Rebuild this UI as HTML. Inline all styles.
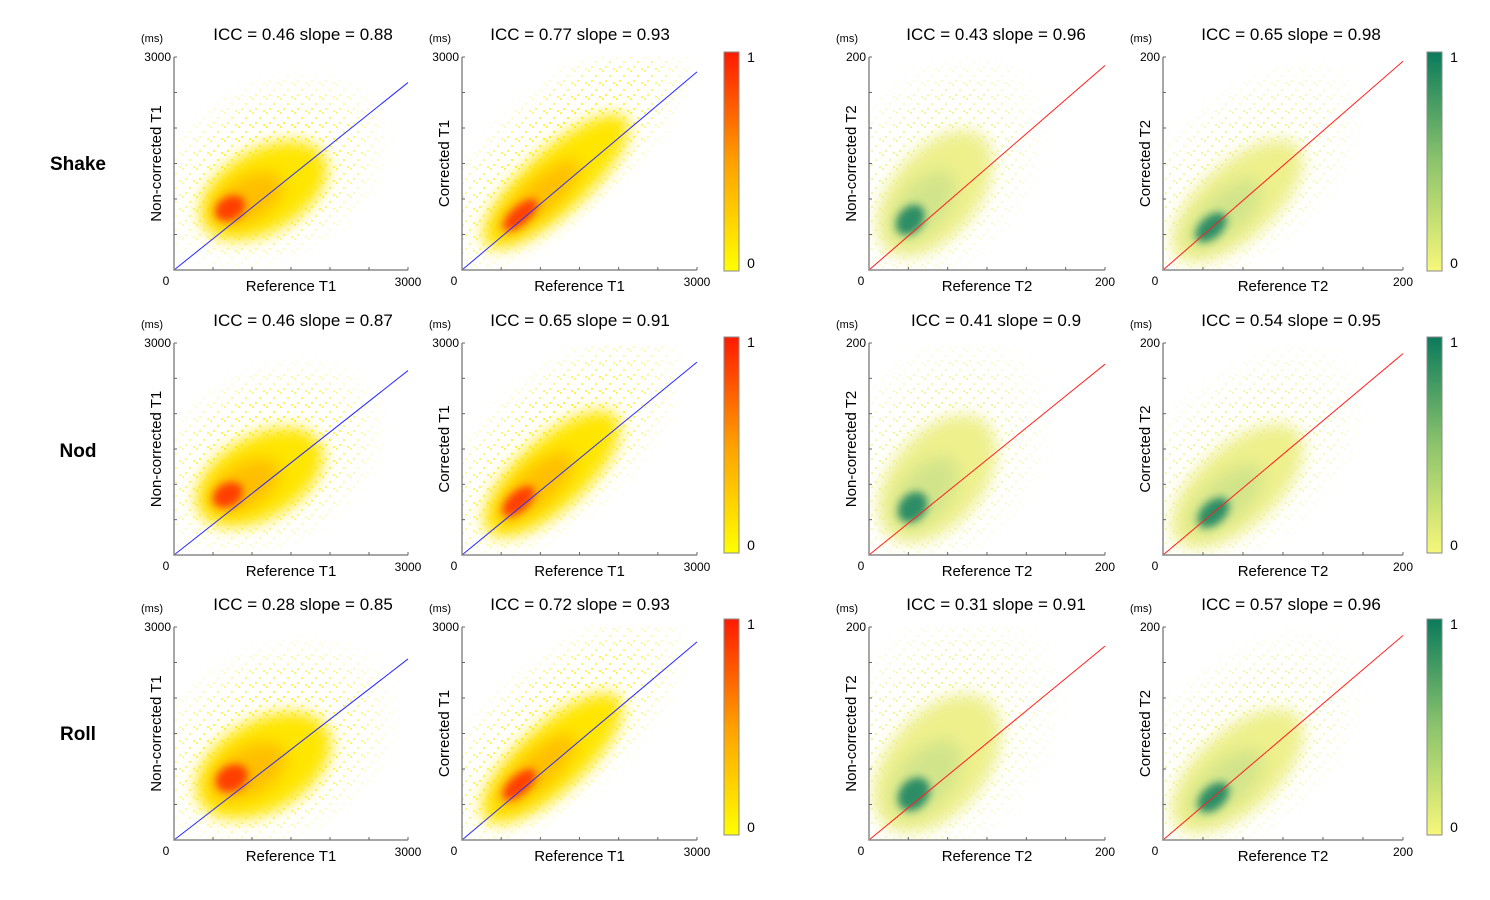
<!DOCTYPE html>
<html><head><meta charset="utf-8"><style>
html,body{margin:0;padding:0;background:#fff;width:1490px;height:900px;overflow:hidden}
svg text{font-family:"Liberation Sans",sans-serif}
</style></head><body>
<svg id="fig" width="1490" height="900" xmlns="http://www.w3.org/2000/svg">
<defs>
<filter id="b4" x="-50%" y="-50%" width="200%" height="200%"><feGaussianBlur stdDeviation="4"/></filter>
<filter id="b8" x="-50%" y="-50%" width="200%" height="200%"><feGaussianBlur stdDeviation="8"/></filter>
<filter id="b12" x="-50%" y="-50%" width="200%" height="200%"><feGaussianBlur stdDeviation="12"/></filter>
<pattern id="dotsY" width="14" height="14" patternUnits="userSpaceOnUse"><rect x="0" y="0" width="2" height="2" fill="#ffee00"/><rect x="7" y="5" width="2" height="2" fill="#ffee00"/><rect x="3" y="10" width="2" height="2" fill="#ffee00"/><rect x="11" y="12" width="2" height="2" fill="#ffee00"/></pattern>
<pattern id="dotsG" width="14" height="14" patternUnits="userSpaceOnUse"><rect x="0" y="0" width="2" height="2" fill="#f0f070"/><rect x="7" y="5" width="2" height="2" fill="#f0f070"/><rect x="3" y="10" width="2" height="2" fill="#f0f070"/><rect x="11" y="12" width="2" height="2" fill="#f0f070"/></pattern>
<radialGradient id="fade"><stop offset="0" stop-color="#fff" stop-opacity="1"/><stop offset="0.6" stop-color="#fff" stop-opacity="0.6"/><stop offset="1" stop-color="#fff" stop-opacity="0"/></radialGradient>
<linearGradient id="cbRed" x1="0" y1="1" x2="0" y2="0"><stop offset="0" stop-color="#ffff00"/><stop offset="0.5" stop-color="#ffa000"/><stop offset="1" stop-color="#ff1a00"/></linearGradient>
<linearGradient id="cbGreen" x1="0" y1="1" x2="0" y2="0"><stop offset="0" stop-color="#f7f77a"/><stop offset="0.5" stop-color="#8cc46c"/><stop offset="1" stop-color="#0b7a5c"/></linearGradient>
</defs>
</svg>
<script>
const rowNames=['Shake','Nod','Roll'];
const iccT1NC=[0.46,0.46,0.28], slopeT1NC=[0.88,0.87,0.85];
const iccT1C=[0.77,0.65,0.72], slopeT1C=[0.93,0.91,0.93];
const iccT2NC=[0.43,0.41,0.31], slopeT2NC=[0.96,0.9,0.91];
const iccT2C=[0.65,0.54,0.57], slopeT2C=[0.98,0.95,0.96];
// density core (peak) location per row
const coreXT1NC=[720,690,740], coreYT1NC=[870,850,870];
const coreXT1C=[745,720,730], coreYT1C=[775,760,780];
const coreXT2NC=[35,37,38], coreYT2NC=[47,45,43];
const coreXT2C=[40,42,42], coreYT2C=[40,40,40];
// bulk centre and spread (data units)
const bulkXT1NC=[1150,1100,1150], bulkYT1NC=[1120,1100,1050], majT1NC=[850,850,900], minT1NC=[500,500,550];
const bulkXT1C=[1200,1150,1150], bulkYT1C=[1250,1150,1150], majT1C=[1150,1050,1100], minT1C=[380,420,400];
const bulkXT2NC=[56,58,58], bulkYT2NC=[72,72,72], majT2NC=[60,60,65], minT2NC=[35,37,40];
const bulkXT2C=[62,62,62], bulkYT2C=[65,65,65], majT2C=[65,65,65], minT2C=[30,32,32];

const svg=document.getElementById('fig');
const NS='http://www.w3.org/2000/svg';
function mk(tag,attrs,parent){const e=document.createElementNS(NS,tag);for(const k in attrs)e.setAttribute(k,attrs[k]);(parent||svg).appendChild(e);return e;}
function txt(s,x,y,size,anchor,parent,extra){const t=mk('text',Object.assign({x:x,y:y,'font-size':size,'text-anchor':anchor||'middle',fill:'#000'},extra||{}),parent);t.textContent=s;return t;}

const rowTop=[57,343,627], rowBot=[270,555,840];
const cols=[{l:174,r:408,max:3000,kind:'T1',nc:true,title:303},{l:462,r:697,max:3000,kind:'T1',nc:false,title:580},{l:869,r:1105,max:200,kind:'T2',nc:true,title:996},{l:1163,r:1403,max:200,kind:'T2',nc:false,title:1291}];
const sets=[
 {icc:iccT1NC,slope:slopeT1NC,cx:coreXT1NC,cy:coreYT1NC,bx:bulkXT1NC,by:bulkYT1NC,ma:majT1NC,mi:minT1NC,name:'t1-noncorrected'},
 {icc:iccT1C,slope:slopeT1C,cx:coreXT1C,cy:coreYT1C,bx:bulkXT1C,by:bulkYT1C,ma:majT1C,mi:minT1C,name:'t1-corrected'},
 {icc:iccT2NC,slope:slopeT2NC,cx:coreXT2NC,cy:coreYT2NC,bx:bulkXT2NC,by:bulkYT2NC,ma:majT2NC,mi:minT2NC,name:'t2-noncorrected'},
 {icc:iccT2C,slope:slopeT2C,cx:coreXT2C,cy:coreYT2C,bx:bulkXT2C,by:bulkYT2C,ma:majT2C,mi:minT2C,name:'t2-corrected'}];

let clipId=0;
for(let r=0;r<3;r++){
  const rl=txt(rowNames[r],78,[170,457,740][r],19,'middle',svg,{'font-weight':'bold'});
  
  
  const top=rowTop[r],bot=rowBot[r];
  for(let c=0;c<4;c++){
    const col=cols[c],s=sets[c];
    const g=mk('g',{});
    
    
    const sx=v=>col.l+(v/col.max)*(col.r-col.l);
    const sy=v=>bot-(v/col.max)*(bot-top);
    const k=(col.r-col.l)/col.max;
    const cid='clip'+(clipId++);
    const cp=mk('clipPath',{id:cid},g);mk('rect',{x:col.l,y:top,width:col.r-col.l,height:bot-top},cp);
    const dg=mk('g',{'clip-path':'url(#'+cid+')'},g);
    
    
    const T1=col.kind==='T1';
    const bx=sx(s.bx[r]),by=sy(s.by[r]),ma=s.ma[r]*k,mi=s.mi[r]*k;
    const ang=c===0?-30:(c===2?-50:-42);
    const mid='m'+cid;
    const m=mk('mask',{id:mid},g);
    mk('ellipse',{cx:bx+ma*0.25,cy:by-ma*0.2,rx:ma*2.0,ry:mi*2.4,fill:'url(#fade)',transform:`rotate(${ang} ${bx} ${by})`},m);
    mk('rect',{x:col.l,y:top,width:col.r-col.l,height:bot-top,fill:T1?'url(#dotsY)':'url(#dotsG)',mask:'url(#'+mid+')'},dg);
    mk('ellipse',{cx:bx,cy:by,rx:ma*1.05,ry:mi*1.05,fill:T1?'#ffe600':'#eef08c',filter:'url(#b8)',transform:`rotate(${ang} ${bx} ${by})`},dg);
    const cx=sx(s.cx[r]),cy=sy(s.cy[r]);
    mk('ellipse',{cx:(cx+bx)/2,cy:(cy+by)/2,rx:ma*0.6,ry:mi*0.55,fill:T1?'#ffb000':'#c8e08a',opacity:0.75,filter:'url(#b8)',transform:`rotate(${ang} ${(cx+bx)/2} ${(cy+by)/2})`},dg);
    mk('ellipse',{cx:cx,cy:cy,rx:ma*0.24,ry:mi*0.3,fill:T1?'#ff3000':'#1d8462',opacity:0.9,filter:'url(#b4)',transform:`rotate(${ang} ${cx} ${cy})`},dg);
    const ln=mk('line',{x1:sx(0),y1:sy(0),x2:sx(col.max),y2:sy(col.max*s.slope[r]),stroke:T1?'#2a2aff':'#ff2020','stroke-width':1},g);
    
    
    const ax=mk('path',{d:`M${col.l},${top} V${bot} H${col.r}`,fill:'none',stroke:'#8a8a8a','stroke-width':1.5},g);
    
    
    for(let i=1;i<=6;i++){
      const v=col.max*i/6;
      mk('line',{x1:col.l,y1:sy(v),x2:col.l+3,y2:sy(v),stroke:'#666','stroke-width':1},g);
      mk('line',{x1:sx(v),y1:bot,x2:sx(v),y2:bot-3,stroke:'#666','stroke-width':1},g);
    }
    const tt=txt('ICC = '+s.icc[r]+' slope = '+s.slope[r],col.title,top-17,17,'middle',g);
    
    
    const ms=txt('(ms)',col.l-22,top-15,11,'middle',g);
    
    
    txt(String(col.max),col.l-3,top+4,12,'end',g);
    txt('0',col.l-8,bot+15,12,'middle',g);
    txt(String(col.max),col.r,bot+16,12,'middle',g);
    const xl=txt('Reference '+col.kind,(col.l+col.r)/2,bot+21,15,'middle',g);
    
    
    const yc=(top+bot)/2, yx=col.l-13;
    const yl=txt((col.nc?'Non-corrected ':'Corrected ')+col.kind,yx,yc,15,'middle',g,{transform:`rotate(-90 ${yx} ${yc})`});
    
    
  }
  const cbTop=[52,337,619][r],cbBot=[271,553,835][r];
  [[724,'url(#cbRed)'],[1427,'url(#cbGreen)']].forEach(([x,f],i)=>{
    const cb=mk('g',{});
    
    
    mk('rect',{x:x,y:cbTop,width:15,height:cbBot-cbTop,fill:f,stroke:'#8a8a8a','stroke-width':1},cb);
    txt('1',x+27,cbTop+10,14,'middle',cb);
    txt('0',x+27,cbBot-3,14,'middle',cb);
  });
}
</script>
</body></html>
